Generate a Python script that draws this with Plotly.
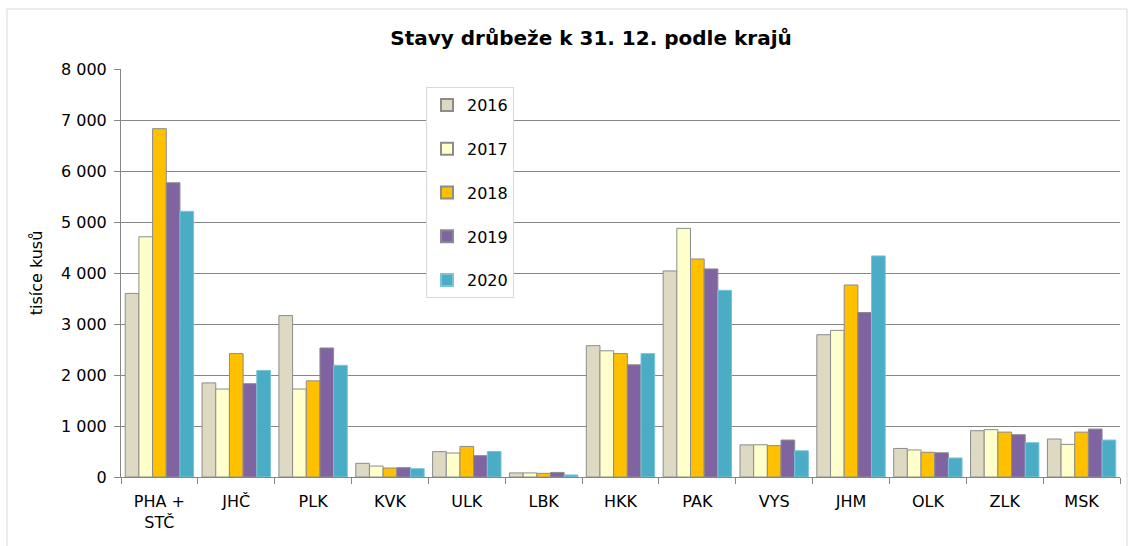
import plotly.graph_objects as go

categories = ["PHA +<br>STČ", "JHČ", "PLK", "KVK", "ULK", "LBK", "HKK", "PAK", "VYS", "JHM", "OLK", "ZLK", "MSK"]
years = ["2016", "2017", "2018", "2019", "2020"]
v2016 = [3600, 1845, 3165, 268, 497, 80, 2575, 4040, 630, 2790, 560, 908, 745]
v2017 = [4710, 1725, 1725, 215, 470, 80, 2475, 4875, 632, 2875, 530, 928, 640]
v2018 = [6830, 2420, 1885, 176, 600, 72, 2420, 4275, 615, 3765, 485, 880, 880]
v2019 = [5770, 1830, 2530, 183, 418, 90, 2200, 4080, 725, 3225, 475, 830, 940]
v2020 = [5210, 2090, 2190, 163, 500, 40, 2420, 3660, 515, 4335, 373, 673, 725]
series = [v2016, v2017, v2018, v2019, v2020]
fills = ["#DDD9C3", "#FFFFCC", "#FFC000", "#8064A2", "#4BACC6"]
edges = ["#8c8c8c", "#8c8c8c", "#8c8c8c", "#8c8c8c", "#7cc3d6"]

FONT = "DejaVu Sans"

fig = go.Figure()
for name, vals, fc, ec in zip(years, series, fills, edges):
    fig.add_trace(go.Bar(
        x=categories, y=vals, name=name, legendgroup=name,
        marker=dict(color=fc, line=dict(color=ec, width=1)),
    ))

# plot area in pixels: x 121..1120, y 69..477
L, R, T, B = 121, 1120, 69, 477
W, H = R - L, B - T
def px(x):
    return (x - L) / W
def py(y):
    return (B - y) / H

fig.update_layout(
    width=1130, height=546,
    margin=dict(l=L, r=1130 - R, t=T, b=546 - B),
    paper_bgcolor="white", plot_bgcolor="white",
    separators=", ",
    barmode="group", bargap=0.11, bargroupgap=0,
    font=dict(family=FONT, size=16, color="black"),
    title=dict(text="<b>Stavy drůbeže k 31. 12. podle krajů</b>",
               x=px(591), xanchor="center", xref="paper", y=1 - 38 / 546, yanchor="middle",
               font=dict(family=FONT, size=20, color="black")),
    legend=dict(x=px(426), y=py(87), xanchor="left", yanchor="top",
                bgcolor="white", bordercolor="#d9d9d9", borderwidth=1,
                tracegroupgap=20, font=dict(family=FONT, size=16),
                itemsizing="constant"),
    xaxis=dict(showline=True, linecolor="#868686", linewidth=1,
               ticks="outside", tickson="boundaries", ticklen=6, tickcolor="#868686",
               ticklabelstandoff=10,
               showgrid=False, tickfont=dict(family=FONT, size=16)),
    yaxis=dict(range=[0, 8000], dtick=1000, tickformat=",d",
               showline=True, linecolor="#868686", linewidth=1,
               ticks="outside", ticklen=6, tickcolor="#868686",
               ticklabelstandoff=4,
               showgrid=True, gridcolor="#868686", gridwidth=1,
               zeroline=False, tickfont=dict(family=FONT, size=16),
               title=dict(text="tisíce kusů", standoff=14, font=dict(family=FONT, size=16))),
    shapes=[dict(type="rect", xref="paper", yref="paper",
                 x0=px(7), x1=px(1127), y0=py(600), y1=py(9),
                 line=dict(color="#d9d9d9", width=1), fillcolor="rgba(0,0,0,0)", layer="below")],
)

fig.write_html("out.html", config={"displayModeBar": False},
               post_script="document.body.style.margin='0';document.body.style.overflow='hidden';")
